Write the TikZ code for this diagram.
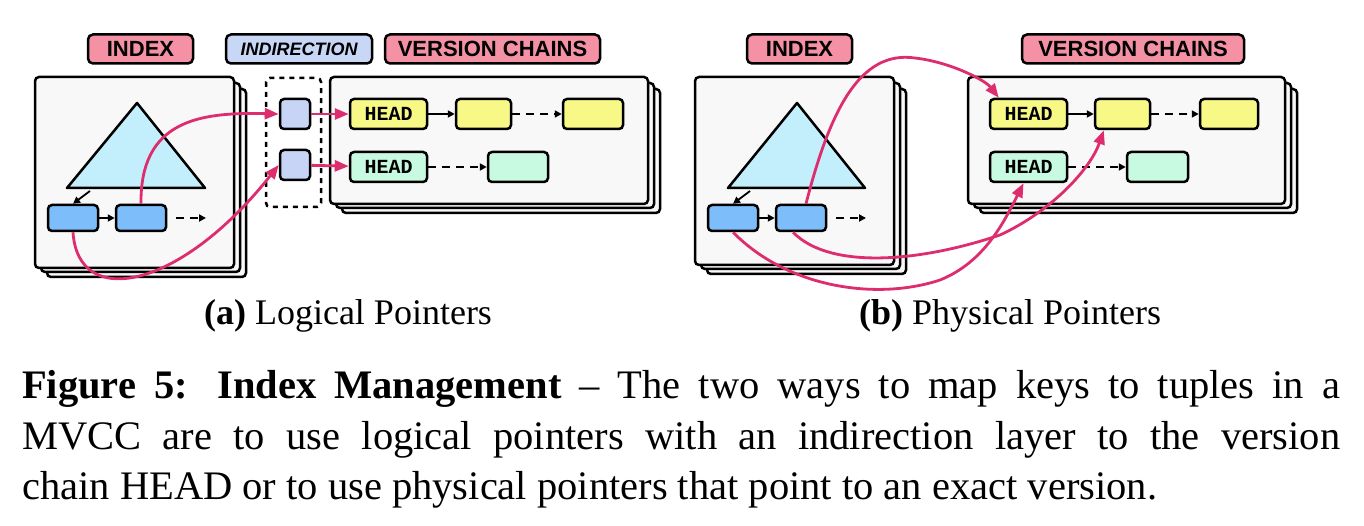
\documentclass[tikz,border=0pt]{standalone}
\usepackage{fontspec}
\setmainfont{Liberation Serif}
\setsansfont{Liberation Sans}
\setmonofont{Liberation Mono}
\usetikzlibrary{arrows.meta}
\definecolor{tagpink}{RGB}{245,145,165}
\definecolor{tagblue}{RGB}{200,215,245}
\definecolor{panel}{RGB}{248,248,248}
\definecolor{tri}{RGB}{195,238,252}
\definecolor{leaf}{RGB}{125,190,250}
\definecolor{cell}{RGB}{200,212,245}
\definecolor{ver_y}{RGB}{248,248,135}
\definecolor{ver_g}{RGB}{200,250,225}
\definecolor{ptr}{RGB}{222,45,110}
\tikzset{
  tag/.style={draw,line width=2.5pt,rounded corners=5pt,fill=tagpink,font=\sffamily\bfseries\fontsize{22}{22}\selectfont,inner sep=0pt},
  sheet/.style={draw,line width=2.5pt,rounded corners=4pt,fill=panel},
  box/.style={draw,line width=2.5pt,rounded corners=4pt,inner sep=0pt},
  headtxt/.style={font=\ttfamily\bfseries\fontsize{20}{20}\selectfont},
  link/.style={-{Triangle[length=7pt,width=7pt]},line width=1.8pt},
  dlink/.style={link,dash pattern=on 8pt off 6pt},
  pointer/.style={-{Triangle[length=14pt,width=11pt,fill=ptr]},line width=2.8pt,draw=ptr},
  subcap/.style={font=\fontsize{36}{36}\selectfont}
}
\newcommand{\stack}[4]{% x1 y1 x2 y2
  \draw[sheet] (#1+12,#2+12) rectangle (#3+12,#4+9);
  \draw[sheet] (#1+6,#2+6) rectangle (#3+6,#4+4);
  \draw[sheet] (#1,#2) rectangle (#3,#4);}
\begin{document}
\begin{tikzpicture}[x=1pt,y=-1pt]
\useasboundingbox (0,0) rectangle (1364,526);

% ---------- (a) logical pointers
\node[tag,minimum width=105,minimum height=29] (idxA) at (140.5,49) {INDEX};
\node[tag,fill=tagblue,font=\sffamily\bfseries\itshape\fontsize{18}{18}\selectfont,minimum width=146,minimum height=29] (indA) at (299,49) {INDIRECTION};
\node[tag,minimum width=215,minimum height=29] (vcA) at (492.5,49) {VERSION CHAINS};
\stack{35}{77}{234}{268}
\stack{330}{77}{648}{204}
\draw[line width=2.5pt,fill=tri,line join=round] (137,103) -- (205,188) -- (67,188) -- cycle;
\node[box,fill=leaf,minimum width=50,minimum height=26] (a1) at (73,218) {};
\node[box,fill=leaf,minimum width=50,minimum height=26] (a2) at (141,218) {};
\coordinate (aT) at (90,191);
\coordinate (aS) at (176,218);
\coordinate (aE) at (206,218);
\draw[link] (aT) -- (a1.north);
\draw[link] (a1) -- (a2);
\draw[dlink] (aS) -- (aE);
\draw[line width=2.5pt,dash pattern=on 5pt off 5pt,rounded corners=4pt] (266,78) rectangle (321,207);
\node[box,fill=cell,minimum width=30,minimum height=30] (c1) at (295,114) {};
\node[box,fill=cell,minimum width=30,minimum height=30] (c2) at (295,165) {};
\node[box,fill=ver_y,minimum width=77,minimum height=30,headtxt] (hy) at (388.5,114) {HEAD};
\node[box,fill=ver_y,minimum width=55,minimum height=30] (y2) at (483.5,114) {};
\node[box,fill=ver_y,minimum width=60,minimum height=30] (y3) at (593,114) {};
\node[box,fill=ver_g,minimum width=77,minimum height=30,headtxt] (hg) at (388.5,167) {HEAD};
\node[box,fill=ver_g,minimum width=60,minimum height=30] (g2) at (518,167) {};
\draw[link] (hy) -- (y2);
\draw[dlink] (y2) -- (y3);
\draw[dlink] (hg) -- (g2);
\draw[pointer] (a2.north) .. controls (140,120) and (200,112) .. (c1.west);
\draw[pointer] (a1.south) .. controls (78,310) and (180,290) .. (c2.west);
\draw[pointer] (c1) -- (hy);
\draw[pointer] (c2) -- (hg);
\node[subcap] (capA) at (348,316) {\textbf{(a)} Logical Pointers};

% ---------- (b) physical pointers
\node[tag,minimum width=105,minimum height=29] (idxB) at (799.5,49) {INDEX};
\node[tag,minimum width=222,minimum height=29] (vcB) at (1133,49) {VERSION CHAINS};
\stack{695}{77}{894}{265}
\stack{968}{77}{1285}{204}
\draw[line width=2.5pt,fill=tri,line join=round] (797,103) -- (865,188) -- (728,188) -- cycle;
\node[box,fill=leaf,minimum width=50,minimum height=26] (b1) at (733,218) {};
\node[box,fill=leaf,minimum width=50,minimum height=26] (b2) at (801,218) {};
\coordinate (bT) at (750,191);
\coordinate (bS) at (836,218);
\coordinate (bE) at (866,218);
\draw[link] (bT) -- (b1.north);
\draw[link] (b1) -- (b2);
\draw[dlink] (bS) -- (bE);
\node[box,fill=ver_y,minimum width=77,minimum height=30,headtxt] (hy2) at (1028.5,114) {HEAD};
\node[box,fill=ver_y,minimum width=55,minimum height=30] (y22) at (1122.5,114) {};
\node[box,fill=ver_y,minimum width=58,minimum height=30] (y23) at (1229,114) {};
\node[box,fill=ver_g,minimum width=77,minimum height=30,headtxt] (hg2) at (1028.5,167) {HEAD};
\node[box,fill=ver_g,minimum width=61,minimum height=30] (g22) at (1157.5,167) {};
\draw[link] (hy2) -- (y22);
\draw[dlink] (y22) -- (y23);
\draw[dlink] (hg2) -- (g22);
\draw[pointer] ([xshift=5pt]b2.north) .. controls (830,110) and (860,50) .. (915,58) .. controls (950,62) and (985,80) .. ([xshift=10pt]hy2.north west);
\draw[pointer] ([xshift=-8pt]b2.south) .. controls (830,270) and (920,262) .. (1000,235) .. controls (1050,212) and (1090,170) .. ([xshift=10pt]y22.south west);
\draw[pointer] (b1.south) .. controls (790,290) and (880,300) .. (940,280) .. controls (985,262) and (1005,220) .. ([xshift=-5pt]hg2.south);
\node[subcap] (capB) at (1010,316) {\textbf{(b)} Physical Pointers};

% ---------- caption
\node[anchor=base west,font=\fontsize{40.5}{40.5}\selectfont,inner sep=0pt] (l1) at (22,398) {\makebox[1318pt][s]{\textbf{Figure 5: Index Management} -- The two ways to map keys to tuples in a}};
\node[anchor=base west,font=\fontsize{40.5}{40.5}\selectfont,inner sep=0pt] (l2) at (22,449) {\makebox[1318pt][s]{MVCC are to use logical pointers with an indirection layer to the version}};
\node[anchor=base west,font=\fontsize{40.5}{40.5}\selectfont,inner sep=0pt] (l3) at (22,499) {chain HEAD or to use physical pointers that point to an exact version.};
\end{tikzpicture}
\end{document}
